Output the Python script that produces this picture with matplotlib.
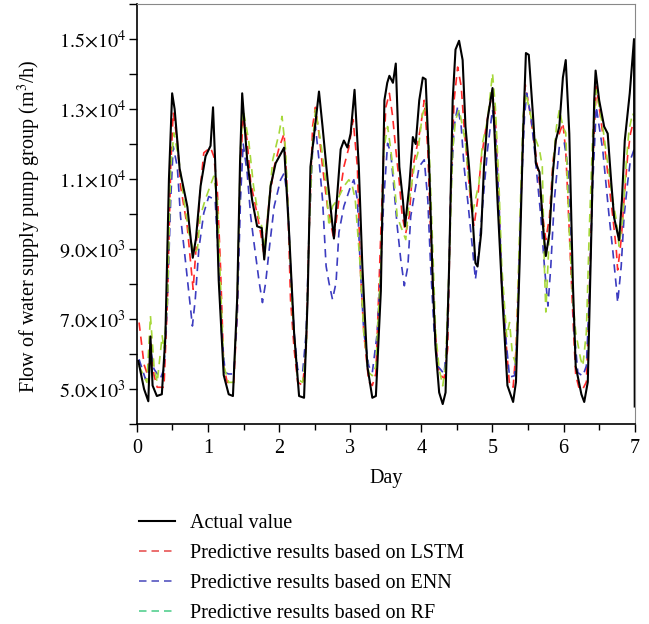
import matplotlib
matplotlib.use("Agg")
import matplotlib.pyplot as plt
from matplotlib.lines import Line2D
from matplotlib.ticker import MultipleLocator, FixedLocator

plt.rcParams['font.family'] = ['Liberation Serif', 'DejaVu Serif']
plt.rcParams['mathtext.fontset'] = 'stix'

# actual flow
actual_day = [0.02, 0.10, 0.16, 0.19, 0.22, 0.28, 0.35, 0.40, 0.45, 0.495, 0.53, 0.60, 0.66,
              0.71, 0.74, 0.785, 0.83, 0.895, 0.965, 1.035, 1.07, 1.10, 1.15, 1.22, 1.29, 1.35,
              1.41, 1.45, 1.48, 1.55, 1.62, 1.69, 1.755, 1.79, 1.88, 1.95, 2.07, 2.14, 2.21,
              2.28, 2.35, 2.40, 2.44, 2.56, 2.61, 2.68, 2.77, 2.865, 2.91, 2.96, 3.005, 3.06,
              3.12, 3.17, 3.24, 3.31, 3.36, 3.43, 3.48, 3.52, 3.55, 3.60, 3.64, 3.69, 3.74,
              3.77, 3.83, 3.88, 3.92, 3.97, 4.02, 4.06, 4.11, 4.16, 4.20, 4.25, 4.30, 4.34,
              4.39, 4.44, 4.48, 4.53, 4.58, 4.62, 4.67, 4.72, 4.76, 4.79, 4.84, 4.88, 4.93,
              5.00, 5.07, 5.14, 5.21, 5.29, 5.33, 5.38, 5.43, 5.47, 5.51, 5.57, 5.61, 5.66,
              5.71, 5.75, 5.80, 5.85, 5.89, 5.94, 5.99, 6.03, 6.08, 6.13, 6.17, 6.25, 6.29,
              6.34, 6.39, 6.43, 6.45, 6.50, 6.57, 6.62, 6.67, 6.71, 6.78, 6.82, 6.86, 6.93,
              6.99, 7.0]
actual_flow = [5800, 5000, 4650, 6500, 5100, 4800, 4850, 6500, 11000, 13450, 13000, 11300, 10700,
               10200, 9600, 8750, 9300, 10800, 11650, 11950, 13050, 11500, 8100, 5400, 4850, 4800,
               7600, 11500, 13450, 11550, 10400, 9650, 9600, 8700, 10800, 11450, 11900, 9450, 6600,
               4800, 4750, 7550, 11350, 13500, 12500, 11000, 9300, 11850, 12100, 11900, 12300, 13550,
               11350, 8500, 5650, 4750, 4800, 7800, 13250, 13750, 13950, 13750, 14300, 11350, 10400,
               9650, 10800, 12200, 12000, 13250, 13900, 13850, 11350, 8050, 6150, 4900, 4570, 4900,
               8500, 13250, 14700, 14950, 14400, 12500, 11350, 9900, 8600, 8500, 9450, 11350, 12700,
               13600, 10400, 7550, 5100, 4630, 5200, 8500, 12300, 14600, 14550, 12800, 11450, 11200,
               9650, 8800, 9450, 11200, 12100, 12500, 13900, 14400, 12300, 8050, 5650, 4850, 4630,
               5200, 9450, 13250, 14100, 13250, 12500, 12300, 10900, 9900, 9250, 10400, 12100, 13450,
               15000, 4500]

lstm_day = [0.03, 0.10, 0.15, 0.19, 0.24, 0.285, 0.38, 0.43, 0.475, 0.51, 0.567, 0.613, 0.707,
            0.75, 0.79, 0.894, 0.94, 1.035, 1.08, 1.128, 1.175, 1.22, 1.27, 1.36, 1.41, 1.456,
            1.494, 1.55, 1.60, 1.69, 1.74, 1.79, 1.86, 1.93, 2.00, 2.07, 2.12, 2.16, 2.21,
            2.26, 2.33, 2.38, 2.42, 2.47, 2.51, 2.56, 2.61, 2.68, 2.77, 2.84, 2.91, 2.98,
            3.04, 3.10, 3.14, 3.19, 3.26, 3.31, 3.36, 3.43, 3.47, 3.50, 3.55, 3.595, 3.64,
            3.69, 3.73, 3.78, 3.83, 3.88, 3.95, 3.99, 4.04, 4.09, 4.13, 4.18, 4.23, 4.27,
            4.32, 4.37, 4.41, 4.46, 4.51, 4.56, 4.60, 4.65, 4.69, 4.74, 4.79, 4.84, 4.88,
            4.95, 5.00, 5.04, 5.09, 5.13, 5.18, 5.24, 5.29, 5.33, 5.38, 5.43, 5.46, 5.52,
            5.61, 5.66, 5.71, 5.75, 5.80, 5.85, 5.89, 5.94, 5.99, 6.03, 6.08, 6.13, 6.17,
            6.22, 6.27, 6.32, 6.36, 6.41, 6.46, 6.50, 6.55, 6.60, 6.64, 6.69, 6.74, 6.76,
            6.81, 6.85, 6.90, 6.94, 6.99]
lstm_flow = [6900, 5700, 5400, 6500, 5400, 5050, 5050, 7550, 11350, 12900, 12100, 10800, 9650,
             8700, 7850, 10800, 11750, 11900, 11650, 10800, 8500, 5660, 5190, 5150, 7100, 11350,
             12800, 12100, 10900, 10000, 9450, 8790, 10400, 11350, 11900, 12300, 10400, 7550, 6150,
             5200, 5100, 6150, 9450, 12500, 13050, 12300, 11350, 10200, 9270, 10400, 11350, 11900,
             12700, 11350, 8500, 6600, 5200, 5100, 5450, 9450, 11800, 13050, 13450, 12800, 11850,
             10900, 9950, 9450, 9950, 11350, 12050, 12500, 13250, 11850, 9450, 7100, 5650, 5400,
             5300, 6150, 10400, 13250, 14200, 13650, 12500, 11350, 10400, 9650, 10400, 11550, 12100,
             13000, 13450, 12800, 10400, 8000, 6600, 5100, 5050, 6100, 9000, 12300, 13700, 13000,
             11700, 10900, 9900, 9270, 9900, 11500, 12100, 12300, 12600, 11800, 9500, 7100, 5400,
             5000, 5000, 5200, 7550, 11350, 13650, 13050, 12300, 11550, 10800, 9950, 9000, 8400,
             9270, 10400, 11650, 12300, 12700]

enn_day = [0.03, 0.12, 0.16, 0.19, 0.24, 0.33, 0.38, 0.43, 0.475, 0.51, 0.567, 0.613, 0.68,
           0.73, 0.78, 0.82, 0.87, 0.94, 1.01, 1.10, 1.15, 1.19, 1.24, 1.29, 1.36, 1.41,
           1.456, 1.494, 1.55, 1.60, 1.64, 1.69, 1.72, 1.765, 1.81, 1.86, 1.93, 2.02, 2.07,
           2.12, 2.16, 2.21, 2.26, 2.33, 2.38, 2.42, 2.47, 2.51, 2.56, 2.61, 2.66, 2.70,
           2.75, 2.80, 2.84, 2.91, 3.005, 3.05, 3.10, 3.14, 3.19, 3.26, 3.31, 3.38, 3.43,
           3.47, 3.525, 3.57, 3.62, 3.66, 3.71, 3.76, 3.81, 3.85, 3.92, 3.97, 4.04, 4.09,
           4.13, 4.18, 4.23, 4.32, 4.37, 4.41, 4.46, 4.51, 4.56, 4.60, 4.65, 4.72, 4.76,
           4.81, 4.86, 4.93, 5.00, 5.04, 5.09, 5.13, 5.18, 5.24, 5.31, 5.35, 5.40, 5.45,
           5.48, 5.54, 5.59, 5.64, 5.68, 5.73, 5.78, 5.82, 5.87, 5.94, 6.01, 6.06, 6.10,
           6.15, 6.20, 6.27, 6.32, 6.36, 6.41, 6.46, 6.50, 6.55, 6.60, 6.64, 6.69, 6.74,
           6.76, 6.81, 6.85, 6.90, 6.94, 6.99]
enn_flow = [5850, 5280, 5380, 6140, 5570, 5300, 5570, 7560, 10410, 11930, 11360, 9930, 8700,
            7750, 6800, 7560, 8990, 10030, 10500, 10410, 8510, 6620, 5470, 5430, 5430, 7090,
            10410, 12020, 11170, 9930, 9270, 8510, 8040, 7470, 8040, 8990, 10220, 10980, 11170,
            10410, 8510, 6620, 5570, 5470, 6620, 9470, 11840, 12500, 11550, 10410, 8510, 8040,
            7560, 8040, 9470, 10220, 10790, 10980, 10410, 8510, 6620, 5660, 5470, 6620, 8510,
            10400, 12020, 11740, 10600, 9650, 8700, 7950, 8510, 9930, 10790, 11360, 11550, 10410,
            8510, 6620, 5660, 5430, 6620, 10410, 12500, 13070, 12500, 11360, 10410, 8990, 8130,
            8990, 10220, 11840, 12980, 12320, 10410, 8030, 6620, 5340, 5380, 6620, 10410, 12790,
            13450, 12790, 11840, 10790, 9930, 8510, 7370, 8510, 10410, 11930, 12030, 11360, 9000,
            6620, 5470, 5370, 5660, 7560, 10890, 13070, 12500, 11840, 10790, 9930, 8990, 7940,
            7470, 8510, 9930, 10890, 11550, 11840]

rf_day = [0.03, 0.14, 0.19, 0.24, 0.285, 0.355, 0.38, 0.43, 0.475, 0.52, 0.59, 0.66, 0.73,
          0.80, 0.85, 0.89, 0.96, 1.08, 1.13, 1.175, 1.22, 1.29, 1.36, 1.41, 1.456, 1.494,
          1.57, 1.64, 1.71, 1.755, 1.79, 1.86, 1.91, 2.00, 2.04, 2.09, 2.14, 2.19, 2.26,
          2.33, 2.38, 2.42, 2.47, 2.51, 2.58, 2.66, 2.70, 2.75, 2.82, 2.91, 2.98, 3.03,
          3.07, 3.14, 3.19, 3.26, 3.31, 3.36, 3.43, 3.47, 3.525, 3.57, 3.62, 3.66, 3.71,
          3.78, 3.83, 3.90, 3.95, 4.01, 4.06, 4.11, 4.16, 4.20, 4.25, 4.30, 4.34, 4.39,
          4.44, 4.48, 4.53, 4.58, 4.62, 4.67, 4.72, 4.76, 4.81, 4.86, 4.93, 5.00, 5.04,
          5.09, 5.13, 5.18, 5.20, 5.24, 5.28, 5.33, 5.38, 5.43, 5.47, 5.54, 5.61, 5.66,
          5.70, 5.73, 5.75, 5.80, 5.85, 5.90, 5.94, 5.99, 6.03, 6.08, 6.13, 6.17, 6.24,
          6.27, 6.32, 6.36, 6.41, 6.46, 6.50, 6.55, 6.60, 6.64, 6.69, 6.74, 6.78, 6.83,
          6.88, 6.92, 6.97, 6.99]
rf_flow = [5660, 5190, 7090, 5660, 5190, 6520, 6140, 7560, 11360, 12320, 11550, 10410, 9470,
           8890, 8990, 9930, 10410, 11080, 10410, 8040, 5660, 5190, 5190, 7560, 11840, 12980,
           12120, 10790, 9930, 9650, 8990, 10410, 11550, 12320, 12790, 11840, 9470, 7090, 5280,
           5190, 6140, 9470, 12030, 12980, 12120, 10890, 9650, 10220, 10410, 10790, 10980, 10790,
           10410, 8510, 6620, 5470, 5380, 5660, 8510, 11840, 12500, 11840, 10890, 9930, 9650,
           9270, 10410, 11360, 11740, 12790, 13160, 11840, 8990, 6620, 5570, 5090, 5660, 8510,
           11840, 12690, 12980, 12500, 12030, 10890, 10030, 10410, 10890, 12030, 12690, 14020, 13070,
           10890, 8510, 7090, 6500, 6900, 6000, 5700, 9470, 12790, 13450, 12790, 12120, 11840,
           11360, 8500, 7200, 9470, 11360, 12500, 12980, 12500, 12320, 9470, 7560, 6620, 5850,
           5660, 6620, 9470, 12320, 13550, 13070, 12500, 11740, 11170, 10410, 9840, 9080, 9840,
           11460, 12400, 12880, 12790]

labels = ['Actual value', 'Predictive results based on LSTM',
          'Predictive results based on ENN', 'Predictive results based on RF']
y_ticks = [5000, 7000, 9000, 11000, 13000, 15000]
y_ticklabels = [r'$5.0{\times}10^3$', r'$7.0{\times}10^3$', r'$9.0{\times}10^3$',
                r'$1.1{\times}10^4$', r'$1.3{\times}10^4$', r'$1.5{\times}10^4$']

fig = plt.figure(figsize=(6.49, 6.24), dpi=100)
ax = fig.add_axes([0.211, 0.3205, 0.767, 0.673])

dash = (0, (5, 3.5))
ax.plot(lstm_day, lstm_flow, color='#ff2a2a', lw=1.2, linestyle=dash)
ax.plot(enn_day, enn_flow, color='#3c3cc0', lw=1.2, linestyle=dash)
ax.plot(rf_day, rf_flow, color='#a6d83a', lw=1.2, linestyle=dash)
ax.plot(actual_day, actual_flow, color='black', lw=1.5)

ax.set_xlim(0, 7)
ax.set_ylim(4000, 16000)
ax.xaxis.set_major_locator(MultipleLocator(1))
ax.xaxis.set_minor_locator(MultipleLocator(0.5))
ax.yaxis.set_major_locator(FixedLocator(y_ticks))
ax.set_yticklabels(y_ticklabels)
ax.yaxis.set_minor_locator(MultipleLocator(1000))
ax.tick_params(which='both', direction='out', labelsize=14.5, width=1)
ax.tick_params(axis='x', which='major', length=6, pad=5)
ax.tick_params(axis='x', which='minor', length=4)
ax.tick_params(axis='y', which='both', length=6, pad=2)

for s in ['left', 'bottom']:
    ax.spines[s].set_linewidth(1.2)
for s in ['top', 'right']:
    ax.spines[s].set_color('#888888')
    ax.spines[s].set_linewidth(0.8)

ax.set_xlabel('Day', fontsize=14.5, labelpad=8)
ax.set_ylabel('Flow of water supply pump group (m$^3$/h)', fontsize=14.5)
ax.yaxis.set_label_coords(-0.188, 0.47)

handles = [Line2D([], [], color='black', lw=1.5),
           Line2D([], [], color='#e85555', lw=1.2, linestyle=(0, (4.5, 3))),
           Line2D([], [], color='#5555c0', lw=1.2, linestyle=(0, (4.5, 3))),
           Line2D([], [], color='#55d090', lw=1.2, linestyle=(0, (4.5, 3)))]
fig.legend(handles, labels, loc='upper left', bbox_to_anchor=(0.214, 0.177),
           frameon=False, fontsize=14.5, handlelength=1.8, handletextpad=0.75,
           labelspacing=0.55, borderaxespad=0, borderpad=0)

fig.savefig('out.png', dpi=100)
